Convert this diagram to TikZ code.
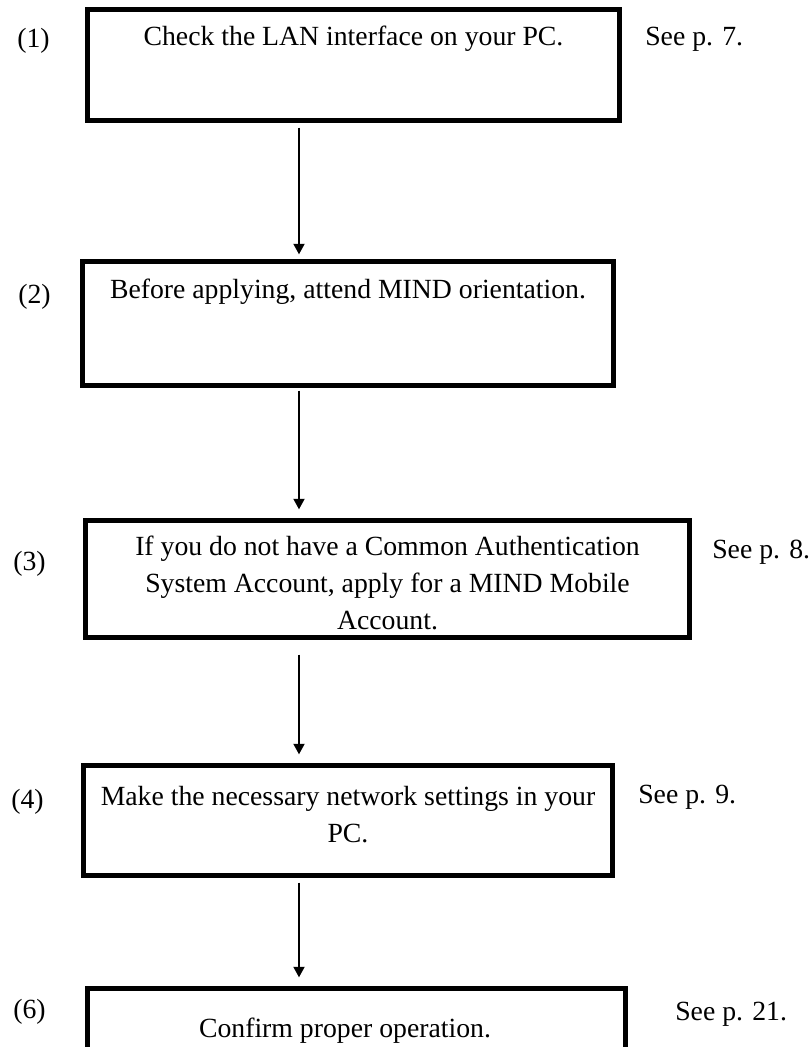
\documentclass[tikz,border=0pt]{standalone}
\usepackage{fontspec}
\setmainfont{Liberation Serif}
\usetikzlibrary{arrows.meta,fit}
\tikzset{
  stepbox/.style={draw, line width=3.75pt, inner sep=0pt},
  steptext/.style={anchor=base, inner sep=0pt, align=center, font=\fontsize{20.8}{27.75}\selectfont},
  sidetext/.style={anchor=base west, inner sep=0pt, font=\fontsize{20.8}{27.75}\selectfont},
  flowarrow/.style={-{Triangle[width=8pt,length=8pt]}, line width=2pt, shorten <=3.4pt, shorten >=6.4pt}
}
\newcommand{\myflow}[3][]
{
\draw[flowarrow,#1] (#2.south -| spine) -- (#3.north -| spine);
}

\begin{document}
\begin{tikzpicture}[x=0.75pt,y=-0.75pt]
  \useasboundingbox (0,0) rectangle (811,1047);
  \clip (0,0) rectangle (811,1047);
  \coordinate (spine) at (299,0);

  \node[stepbox, fit={(87.5,9.5) (619.5,120.5)}] (s1) {};
  \node[steptext] (t1) at (353.5,45) {Check the LAN interface on your PC.};
  \node[sidetext] (n1) at (17,47) {(1)};
  \node[sidetext] (p1) at (645,45) {See p. 7.};

  \node[stepbox, fit={(82.5,261.5) (613.5,385.5)}] (s2) {};
  \node[steptext] (t2) at (348,298) {Before applying, attend MIND orientation.};
  \node[sidetext] (n2) at (18,303) {(2)};
  \myflow[shorten >=3.4pt]{s1}{s2}

  \node[stepbox, fit={(85.5,520.5) (689.5,637.5)}] (s3) {};
  \node[steptext] (t3) at (387.5,629) {If you do not have a Common Authentication\\
    System Account, apply for a MIND Mobile\\ Account.};
  \node[sidetext] (n3) at (13,570) {(3)};
  \node[sidetext] (p3) at (712,558) {See p. 8.};
  \myflow[shorten <=2pt]{s2}{s3}

  \node[stepbox, fit={(83.5,765.5) (612.5,875.5)}] (s4) {};
  \node[steptext] (t4) at (348,842) {Make the necessary network settings in your\\ PC.};
  \node[sidetext] (n4) at (11,808) {(4)};
  \node[sidetext] (p4) at (638,803) {See p. 9.};
  \myflow[shorten <=11pt]{s3}{s4}

  \node[stepbox, fit={(87.5,988.5) (625,1080)}] (s5) {};
  \node[steptext] (t5) at (345,1037) {Confirm proper operation.};
  \node[sidetext] (n5) at (13,1018) {(6)};
  \node[sidetext] (p5) at (675,1020) {See p. 21.};
  \myflow{s4}{s5}
\end{tikzpicture}
\end{document}
